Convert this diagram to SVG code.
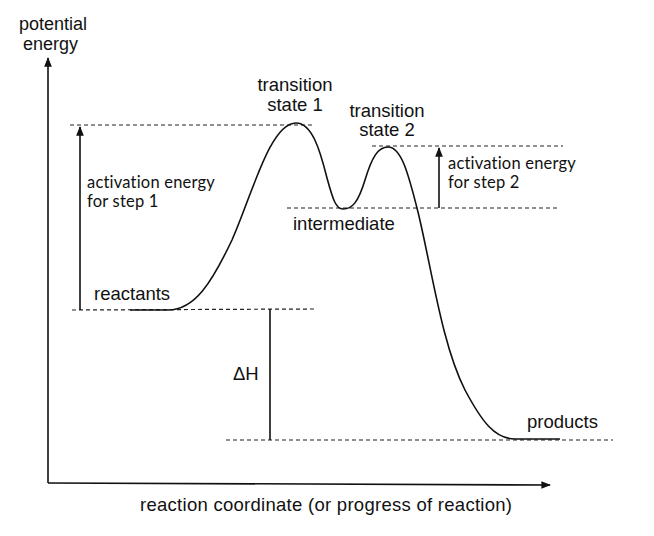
<svg xmlns="http://www.w3.org/2000/svg" width="654" height="536" viewBox="0 0 654 536">
<defs>
<marker id="ah" viewBox="0 0 10 10" refX="9" refY="5" markerWidth="6" markerHeight="6" orient="auto-start-reverse">
<path d="M0,1 L10,5 L0,9 z" fill="#111"/>
</marker>
<style>
text{font-family:"Liberation Sans",Arial,sans-serif;font-size:18.5px;fill:#111}
.ae{font-family:Lato,"Open Sans",sans-serif;font-size:16.5px;letter-spacing:0.2px}
.ax{font-size:18px}
.dash{stroke:#222;stroke-width:1.2;stroke-dasharray:4 3;fill:none}
.ln{stroke:#111;stroke-width:1.6;fill:none}
</style>
</defs>
<rect width="654" height="536" fill="#fff"/>
<g id="axes">
<line class="ln" x1="48" y1="483" x2="48" y2="58" marker-end="url(#ah)"/>
<line class="ln" x1="48" y1="483" x2="550" y2="485" marker-end="url(#ah)"/>
<text class="ax" x="19" y="30">potential</text>
<text class="ax" x="23" y="50">energy</text>
<text x="326" y="511" text-anchor="middle" textLength="372">reaction coordinate (or progress of reaction)</text>
</g>
<g id="guides">
<line class="dash" x1="70" y1="125" x2="315" y2="125"/>
<line class="dash" x1="372" y1="146" x2="563" y2="146"/>
<line class="dash" x1="287" y1="208" x2="560" y2="208"/>
<line class="dash" x1="72" y1="310" x2="315" y2="309"/>
<line class="dash" x1="226" y1="440" x2="613" y2="440"/>
</g>
<g id="connectors">
<line class="ln" x1="80" y1="310" x2="80" y2="127" marker-end="url(#ah)"/>
<line class="ln" x1="439" y1="208" x2="439" y2="148" marker-end="url(#ah)"/>
<line class="ln" x1="270" y1="309" x2="270" y2="440"/>
</g>
<g id="curve">
<path class="ln" d="M130,310 L168,310 C195,310 212,282 232,240 C252,195 270,123 296,123 C312,123 320,150 327,178 C333,200 336,209 343,209 C352,209 358,203 365,180 C372,157 378,147 388,147 C401,147 408,172 418,212 C432,270 442,345 465,390 C482,422 495,439 515,439 L560,439"/>
</g>
<g id="labels">
<text x="295" y="91" text-anchor="middle">transition</text>
<text x="295" y="111" text-anchor="middle">state 1</text>
<text x="387" y="117" text-anchor="middle">transition</text>
<text x="387" y="136" text-anchor="middle">state 2</text>
<text class="ae" x="87" y="188">activation energy</text>
<text class="ae" x="87" y="207">for step 1</text>
<text class="ae" x="448" y="169">activation energy</text>
<text class="ae" x="448" y="188">for step 2</text>
<text x="293" y="230">intermediate</text>
<text x="94" y="300">reactants</text>
<text x="233" y="380">ΔH</text>
<text x="527" y="428">products</text>
</g>
</svg>
